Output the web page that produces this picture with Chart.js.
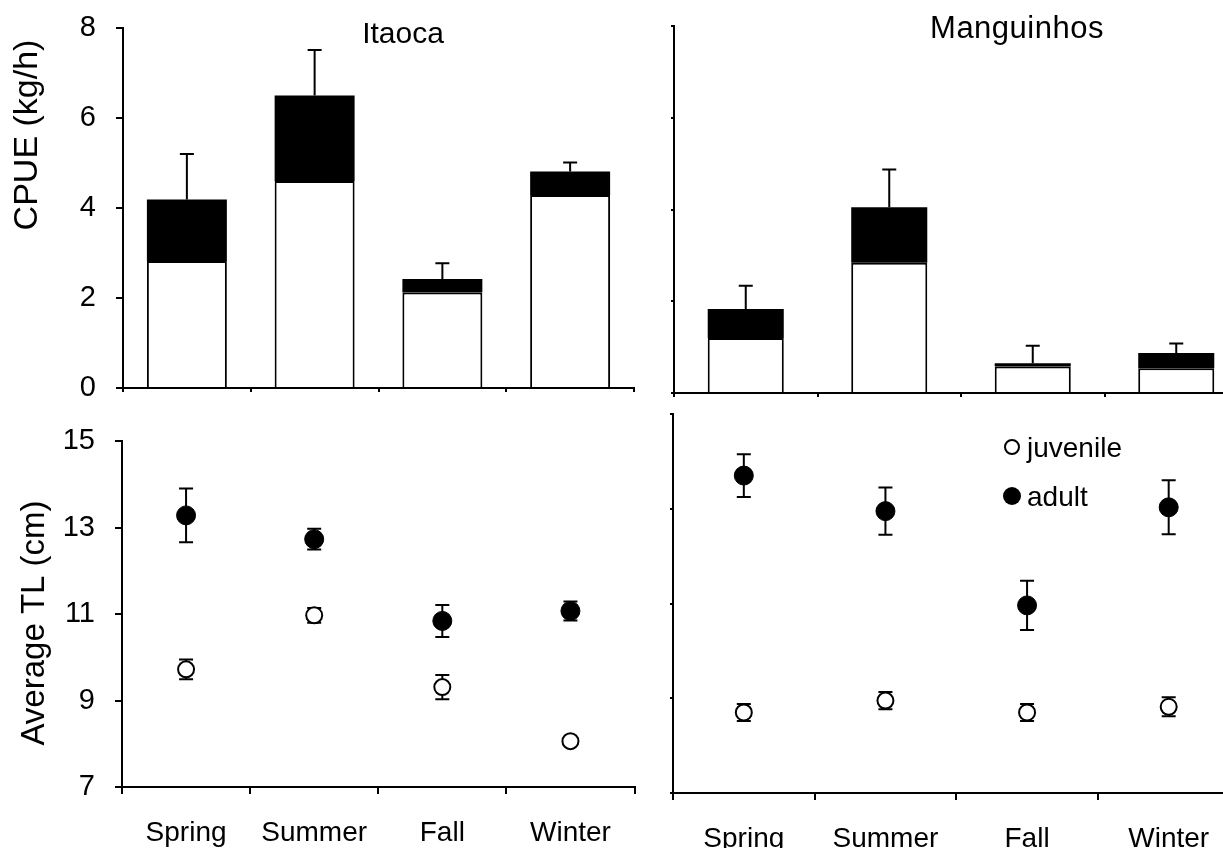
<!DOCTYPE html>
<html>
<head>
<meta charset="utf-8">
<script src="https://cdn.jsdelivr.net/npm/chart.js@4/dist/chart.umd.min.js"></script>
<style>
  html, body { margin: 0; padding: 0; background: #fff; overflow: hidden; }
  #wrap { position: relative; width: 1223px; height: 848px; overflow: hidden; background: #fff; }
  canvas { position: absolute; }
</style>
</head>
<body>
<div id="wrap">
  <canvas id="tl" width="640" height="440" style="left:0;top:-10px;width:640px;height:440px"></canvas>
  <canvas id="tr" width="610" height="400" style="left:640px;top:0;width:610px;height:400px"></canvas>
  <canvas id="bl" width="645" height="448" style="left:0;top:400px;width:645px;height:448px"></canvas>
  <canvas id="br" width="610" height="448" style="left:640px;top:400px;width:610px;height:448px"></canvas>
</div>
<script>
// ---------------- DATA ----------------
const seasons = ['Spring', 'Summer', 'Fall', 'Winter'];

// CPUE (kg/h) – stacked: juvenile (white) + adult (black), SE above total
const itaocaJuvCpue     = [2.82, 4.60, 2.12, 4.29];
const itaocaAdultCpue   = [1.37, 1.90, 0.30, 0.52];
const itaocaCpueErr     = [1.01, 1.01, 0.35, 0.20];

const manguinhosJuvCpue   = [1.20, 2.84, 0.58, 0.54];
const manguinhosAdultCpue = [0.63, 1.21, 0.07, 0.33];
const manguinhosCpueErr   = [0.51, 0.82, 0.38, 0.21];

// Average TL (cm)
const itaocaJuvTL       = [9.72, 10.97, 9.31, 8.06];
const itaocaJuvTLErr    = [0.23, 0.17, 0.28, 0.05];
const itaocaAdultTL     = [13.28, 12.73, 10.84, 11.07];
const itaocaAdultTLErr  = [0.62, 0.24, 0.37, 0.22];

const manguinhosJuvTL      = [8.70, 8.95, 8.70, 8.82];
const manguinhosJuvTLErr   = [0.18, 0.18, 0.18, 0.20];
const manguinhosAdultTL    = [13.70, 12.95, 10.96, 13.03];
const manguinhosAdultTLErr = [0.45, 0.50, 0.52, 0.57];

const cpueTicks = { min: 0, max: 8, step: 2 };
const tlTicks   = { min: 7, max: 15, step: 2 };

// ---------------- HELPERS ----------------
const FONT = "'Liberation Sans', Arial, Helvetica, sans-serif";
const BLACK = '#000';

// error bars for stacked bars (drawn above the top of the stack)
const barErrPlugin = {
  id: 'barErr',
  afterDatasetsDraw(chart, args, opts) {
    const { ctx } = chart;
    const y = chart.scales.y;
    const meta = chart.getDatasetMeta(1);
    ctx.save();
    ctx.strokeStyle = BLACK;
    ctx.lineWidth = 2;
    meta.data.forEach((el, i) => {
      const total = opts.juv[i] + opts.adult[i];
      const top = y.getPixelForValue(total + opts.err[i]);
      const x = el.x;
      ctx.beginPath();
      ctx.moveTo(x, el.y);
      ctx.lineTo(x, top);
      ctx.moveTo(x - 7, top);
      ctx.lineTo(x + 7, top);
      ctx.stroke();
    });
    ctx.restore();
  }
};

// symmetric error bars for point datasets (drawn under markers)
const pointErrPlugin = {
  id: 'pointErr',
  beforeDatasetsDraw(chart, args, opts) {
    const { ctx } = chart;
    const y = chart.scales.y;
    ctx.save();
    ctx.strokeStyle = BLACK;
    ctx.lineWidth = 2;
    opts.sets.forEach((s, di) => {
      const meta = chart.getDatasetMeta(di);
      meta.data.forEach((el, i) => {
        const hi = y.getPixelForValue(s.v[i] + s.e[i]);
        const lo = y.getPixelForValue(s.v[i] - s.e[i]);
        const x = el.x;
        ctx.beginPath();
        ctx.moveTo(x, hi); ctx.lineTo(x, lo);
        ctx.moveTo(x - 7, hi); ctx.lineTo(x + 7, hi);
        ctx.moveTo(x - 7, lo); ctx.lineTo(x + 7, lo);
        ctx.stroke();
      });
    });
    ctx.restore();
  }
};

// free text labels (panel titles, axis titles)
const textPlugin = {
  id: 'texts',
  afterDraw(chart, args, opts) {
    const { ctx } = chart;
    (opts.items || []).forEach(t => {
      ctx.save();
      ctx.fillStyle = BLACK;
      ctx.font = t.font;
      ctx.textAlign = t.align || 'center';
      ctx.textBaseline = t.baseline || 'alphabetic';
      if (t.spacing) ctx.letterSpacing = t.spacing;
      ctx.translate(t.x, t.y);
      if (t.rotate) ctx.rotate(t.rotate);
      ctx.fillText(t.text, 0, 0);
      ctx.restore();
    });
  }
};

// legend drawn inside bottom-right panel
const legendPlugin = {
  id: 'tlLegend',
  afterDraw(chart, args, opts) {
    if (!opts.show) return;
    const { ctx } = chart;
    ctx.save();
    ctx.lineWidth = 2;
    ctx.strokeStyle = BLACK;
    ctx.fillStyle = '#fff';
    ctx.beginPath(); ctx.arc(372, 47, 7, 0, Math.PI * 2); ctx.fill(); ctx.stroke();
    ctx.fillStyle = BLACK;
    ctx.beginPath(); ctx.arc(372, 96, 9, 0, Math.PI * 2); ctx.fill();
    ctx.font = '28px ' + FONT;
    ctx.textAlign = 'left';
    ctx.textBaseline = 'alphabetic';
    ctx.fillText('juvenile', 387, 57);
    ctx.fillText('adult', 387, 106);
    ctx.restore();
  }
};

function scales(o) {
  return {
    x: {
      type: 'category',
      offset: true,
      grid: { offset: true, drawOnChartArea: false, drawTicks: true, tickLength: o.xTick, color: BLACK, lineWidth: 2 },
      border: { display: true, color: BLACK, width: 2 },
      ticks: { display: o.xLabels, color: BLACK, font: { family: FONT, size: 28 }, padding: o.xPad || 0, maxRotation: 0, autoSkip: false },
      afterFit: s => { s.height = o.xH; }
    },
    y: {
      type: 'linear',
      min: o.range.min, max: o.range.max,
      stacked: !!o.stacked,
      grid: { drawOnChartArea: false, drawTicks: true, tickLength: o.yTick, color: BLACK, lineWidth: 2 },
      border: { display: true, color: BLACK, width: 2 },
      ticks: { display: o.yLabels, stepSize: o.range.step, color: BLACK, font: { family: FONT, size: 29 }, padding: 20 },
      afterFit: s => { s.width = o.yW; }
    }
  };
}

// nudge layout padding so the plot area lands where the reference has it
function fitArea(chart, target) {
  const p = chart.config.options.layout.padding;
  for (let k = 0; k < 6; k++) {
    const ca = chart.chartArea;
    const dt = target.top - ca.top;
    const db = target.bottom - ca.bottom;
    const dr = target.right - ca.right;
    if (Math.abs(dt) < 0.5 && Math.abs(db) < 0.5 && Math.abs(dr) < 0.5) break;
    p.top = Math.max(0, p.top + dt);
    p.bottom = Math.max(0, p.bottom - db);
    p.right = Math.max(0, p.right - dr);
    chart.update();
  }
}

function barChart(id, juv, adult, err, o) {
  const sc = scales(Object.assign({ range: cpueTicks, stacked: true }, o));
  sc.x.stacked = true;
  const ch = new Chart(document.getElementById(id), {
    type: 'bar',
    data: {
      labels: seasons,
      datasets: [
        { label: 'juvenile', data: juv, backgroundColor: '#fff', borderColor: BLACK, borderWidth: 2, borderSkipped: 'start',
          categoryPercentage: 1, barPercentage: o.barPct },
        { label: 'adult', data: adult, backgroundColor: BLACK, borderColor: BLACK, borderWidth: 0,
          categoryPercentage: 1, barPercentage: o.barPct }
      ]
    },
    options: {
      responsive: false, animation: false, devicePixelRatio: 1,
      layout: { padding: Object.assign({}, o.pad) },
      plugins: {
        legend: { display: false }, tooltip: { enabled: false },
        barErr: { juv, adult, err },
        texts: { items: o.texts },
        tlLegend: { show: false }
      },
      scales: sc
    },
    plugins: [barErrPlugin, textPlugin, legendPlugin]
  });
  fitArea(ch, o.target);
  return ch;
}

function tlChart(id, juv, juvErr, adult, adultErr, o) {
  const ch = new Chart(document.getElementById(id), {
    type: 'line',
    data: {
      labels: seasons,
      datasets: [
        { label: 'juvenile', data: juv, showLine: false, pointStyle: 'circle', pointRadius: 8,
          pointBackgroundColor: '#fff', pointBorderColor: BLACK, pointBorderWidth: 2 },
        { label: 'adult', data: adult, showLine: false, pointStyle: 'circle', pointRadius: 9.5,
          pointBackgroundColor: BLACK, pointBorderColor: BLACK, pointBorderWidth: 1 }
      ]
    },
    options: {
      responsive: false, animation: false, devicePixelRatio: 1,
      layout: { padding: Object.assign({}, o.pad) },
      plugins: {
        legend: { display: false }, tooltip: { enabled: false },
        pointErr: { sets: [{ v: juv, e: juvErr }, { v: adult, e: adultErr }] },
        texts: { items: o.texts || [] },
        tlLegend: { show: !!o.legend }
      },
      scales: scales(Object.assign({ range: tlTicks }, o))
    },
    plugins: [pointErrPlugin, textPlugin, legendPlugin]
  });
  fitArea(ch, o.target);
  return ch;
}

// ---------------- CHARTS ----------------
// (top-left canvas is shifted 10px up, so its coordinates are page y + 10)
barChart('tl', itaocaJuvCpue, itaocaAdultCpue, itaocaCpueErr, {
  pad: { top: 38, right: 6, left: 0, bottom: 0 },
  target: { top: 38, bottom: 398, right: 634 },
  yW: 123, xH: 42, xTick: 4, yTick: 7, xLabels: false, yLabels: true, barPct: 0.626,
  texts: [
    { text: 'Itaoca', x: 403, y: 53, font: '30px ' + FONT },
    { text: 'CPUE (kg/h)', x: 28, y: 145, font: '34px ' + FONT, rotate: -Math.PI / 2, baseline: 'middle' }
  ]
});

barChart('tr', manguinhosJuvCpue, manguinhosAdultCpue, manguinhosCpueErr, {
  pad: { top: 26, right: 2, left: 0, bottom: 0 },
  target: { top: 26, bottom: 393, right: 608 },
  yW: 34, xH: 7, xTick: 4, yTick: 3, xLabels: false, yLabels: false, barPct: 0.53,
  texts: [
    { text: 'Manguinhos', x: 377, y: 38, font: '31px ' + FONT, spacing: '0.5px' }
  ]
});

tlChart('bl', itaocaJuvTL, itaocaJuvTLErr, itaocaAdultTL, itaocaAdultTLErr, {
  pad: { top: 41, right: 7, left: 0, bottom: 0 },
  target: { top: 41, bottom: 387, right: 638 },
  yW: 122, xH: 61, xTick: 7, yTick: 7, xLabels: true, yLabels: true, xPad: 22,
  texts: [
    { text: 'Average TL (cm)', x: 35, y: 223, font: '33px ' + FONT, rotate: -Math.PI / 2, baseline: 'middle' }
  ]
});

tlChart('br', manguinhosJuvTL, manguinhosJuvTLErr, manguinhosAdultTL, manguinhosAdultTLErr, {
  pad: { top: 14, right: 2, left: 0, bottom: 0 },
  target: { top: 14, bottom: 393, right: 608 },
  yW: 33, xH: 55, xTick: 7, yTick: 3, xLabels: true, yLabels: false, xPad: 22, legend: true
});
</script>
</body>
</html>
